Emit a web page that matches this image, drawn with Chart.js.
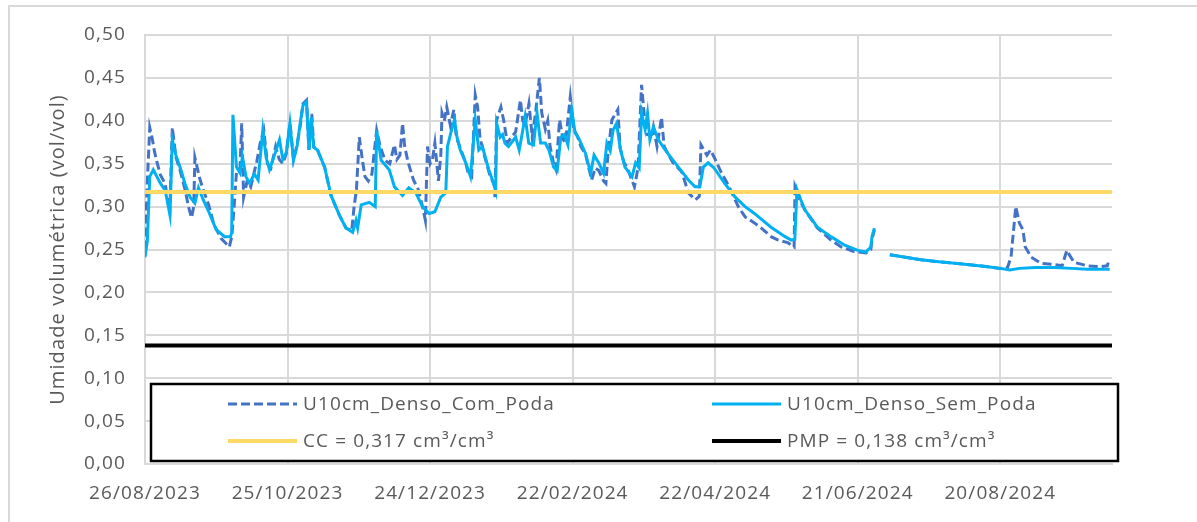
<!DOCTYPE html>
<html>
<head>
<meta charset="utf-8">
<script src="https://cdn.jsdelivr.net/npm/chart.js@4.4.1/dist/chart.umd.min.js"></script>
<style>
  html, body { margin: 0; padding: 0; background: #fff; }
  #wrap { position: relative; width: 1197px; height: 522px; overflow: hidden; }
  #frame { position: absolute; left: 8px; top: 5px; width: 1250px; height: 600px; border: 2px solid #d9d9d9; }
  canvas { position: absolute; left: 0; top: 0; }
</style>
</head>
<body>
<div id="wrap">
  <div id="frame"></div>
  <canvas id="umidadeChart" width="1197" height="522"></canvas>
</div>
<script>
// days counted from 26/08/2023
var startDate = Date.UTC(2023, 7, 26);

var comDays = [
  0, 1, 2, 3, 4, 5, 6.5, 8.4, 9.5, 10.5,
  11.5, 13, 15, 17, 18.3, 19.6, 20.5, 21, 23, 24.6,
  26.8, 29, 32, 35.5, 36.5, 37, 37.5, 38.5, 40, 40.7,
  41.5, 43, 44.5, 47, 48.5, 50, 51.5, 53, 55, 56.5,
  58, 59.5, 61, 62.5, 64, 65.5, 66.5, 68, 69, 70.2,
  71, 72.6, 75.6, 78.3, 81.8, 84.6, 87, 88, 89, 90.2,
  91.5, 92.6, 94, 95.5, 97.5, 99, 101, 103, 105, 106,
  107.3, 108.4, 109.3, 110.8, 113, 115, 116.8, 118, 118.9, 120,
  121, 122, 123.5, 124.5, 125, 126, 127, 128.5, 130, 131,
  133, 135, 136, 137.5, 139, 140, 141, 143, 145, 147,
  147.3, 148, 149.8, 151, 152.5, 154, 156, 158, 159, 160,
  161.6, 163, 164.5, 166, 167, 168.5, 169.5, 170.5, 172, 173,
  174.5, 176, 177, 179, 180.5, 182, 183.5, 185.5, 188, 189.5,
  191, 193, 194, 194.8, 196.5, 199, 200, 201.5, 203, 206,
  207.5, 209, 210.3, 211.5, 213.3, 214, 215.5, 217.4, 218.5, 222,
  226, 228.7, 231.6, 233.3, 234, 236.5, 238, 240, 242.5, 245.5,
  249.7, 252.6, 256.5, 259.4, 263.5, 266.5, 270.5, 273.2, 273.6, 276,
  278, 283, 288.7, 293, 298, 303.5, 305.5, 306, 307, 310,
  313.5, 320, 326.6, 333, 340.7, 348, 354.6, 360, 363, 364.5,
  366.5, 368, 369.5, 370.5, 373, 377, 384, 386, 388, 389,
  391, 396.6, 402, 405, 405.8
];
var comValues = [
  0.250, 0.330, 0.392, 0.380, 0.364, 0.352, 0.337, 0.327, 0.310, 0.300,
  0.392, 0.358, 0.340, 0.318, 0.300, 0.287, 0.300, 0.357, 0.333, 0.319,
  0.302, 0.279, 0.263, 0.253, 0.265, 0.281, 0.300, 0.340, 0.345, 0.397,
  0.311, 0.330, 0.323, 0.352, 0.374, 0.389, 0.350, 0.345, 0.370, 0.355,
  0.350, 0.362, 0.397, 0.355, 0.372, 0.397, 0.420, 0.424, 0.366, 0.408,
  0.370, 0.366, 0.346, 0.313, 0.290, 0.275, 0.272, 0.300, 0.320, 0.381,
  0.354, 0.335, 0.330, 0.338, 0.389, 0.370, 0.354, 0.350, 0.372, 0.355,
  0.360, 0.397, 0.370, 0.351, 0.331, 0.320, 0.300, 0.284, 0.370, 0.350,
  0.355, 0.374, 0.330, 0.360, 0.409, 0.400, 0.416, 0.395, 0.413, 0.381,
  0.366, 0.351, 0.339, 0.335, 0.430, 0.416, 0.380, 0.358, 0.338, 0.325,
  0.311, 0.401, 0.416, 0.400, 0.374, 0.380, 0.387, 0.424, 0.400, 0.395,
  0.420, 0.381, 0.412, 0.450, 0.409, 0.390, 0.400, 0.370, 0.350, 0.343,
  0.401, 0.378, 0.375, 0.428, 0.390, 0.382, 0.370, 0.360, 0.331, 0.345,
  0.342, 0.330, 0.327, 0.360, 0.401, 0.413, 0.368, 0.352, 0.345, 0.323,
  0.345, 0.442, 0.401, 0.384, 0.384, 0.393, 0.370, 0.404, 0.370, 0.352,
  0.340, 0.316, 0.308, 0.312, 0.372, 0.360, 0.366, 0.355, 0.340, 0.325,
  0.300, 0.288, 0.281, 0.275, 0.265, 0.261, 0.258, 0.253, 0.323, 0.305,
  0.295, 0.275, 0.261, 0.253, 0.248, 0.246, 0.250, 0.262, 0.273, null,
  0.244, 0.241, 0.238, 0.236, 0.234, 0.232, 0.230, 0.228, 0.229, 0.241,
  0.300, 0.281, 0.273, 0.253, 0.241, 0.234, 0.232, 0.231, 0.249, 0.244,
  0.235, 0.231, 0.230, 0.231, 0.238
];

var semDays = [
  0, 1, 2, 3.5, 5, 6.5, 8.5, 10.5, 11.5, 13,
  15, 17, 19, 21, 22.5, 24.5, 27, 30, 33.5, 36,
  36.5, 37, 38.5, 40, 41, 42.5, 44, 46, 47.6, 49.6,
  51, 52.4, 54.5, 56.6, 58, 59.5, 61, 62.5, 64, 65.5,
  66.5, 68, 69, 70, 71, 72.6, 75.6, 78.3, 81.8, 84.6,
  87.4, 88.8, 89.5, 91, 94.4, 96.9, 97.5, 99.4, 102.8, 105,
  108.4, 111, 114, 116.8, 119.6, 122, 124.5, 126.6, 127.3, 129,
  130.3, 131.3, 132.7, 135, 137, 139, 140.5, 142, 144.7, 147,
  147.6, 148, 149.5, 150.5, 151.5, 153, 156, 157.5, 158.5, 160,
  161.5, 163.5, 165, 166.5, 168.5, 170, 172, 173.5, 175, 176.5,
  178, 179.6, 181, 182.5, 185.4, 187.6, 189, 191, 193, 194.4,
  195.8, 197, 198.5, 200, 202, 205, 206.5, 208, 209, 210.5,
  211.5, 212.5, 214, 216, 218, 220, 224.5, 228.7, 231.5, 233.5,
  235, 237, 239.5, 244, 248.4, 252.6, 256.5, 260, 263.5, 269.4,
  272, 273.5, 274.4, 276, 277.8, 283, 288.7, 294.5, 300, 303.4,
  305.5, 306, 307, 310, 313.5, 320, 326.6, 333, 340.7, 348,
  354.6, 360, 364, 368, 375, 382.6, 390, 396.6, 406
];
var semValues = [
  0.241, 0.260, 0.335, 0.343, 0.335, 0.327, 0.319, 0.290, 0.378, 0.360,
  0.344, 0.325, 0.311, 0.304, 0.322, 0.308, 0.293, 0.273, 0.265, 0.265,
  0.270, 0.407, 0.346, 0.339, 0.358, 0.335, 0.327, 0.338, 0.331, 0.389,
  0.357, 0.343, 0.360, 0.378, 0.355, 0.363, 0.397, 0.354, 0.370, 0.401,
  0.418, 0.422, 0.366, 0.404, 0.369, 0.366, 0.346, 0.313, 0.290, 0.275,
  0.270, 0.284, 0.275, 0.302, 0.305, 0.300, 0.389, 0.354, 0.343, 0.323,
  0.313, 0.322, 0.316, 0.300, 0.292, 0.294, 0.311, 0.316, 0.370, 0.389,
  0.401, 0.381, 0.366, 0.351, 0.335, 0.401, 0.366, 0.370, 0.343, 0.325,
  0.319, 0.397, 0.381, 0.384, 0.374, 0.370, 0.381, 0.366, 0.381, 0.405,
  0.374, 0.372, 0.409, 0.374, 0.374, 0.366, 0.346, 0.342, 0.381, 0.384,
  0.372, 0.413, 0.386, 0.380, 0.362, 0.339, 0.360, 0.351, 0.339, 0.374,
  0.365, 0.389, 0.397, 0.368, 0.346, 0.335, 0.351, 0.345, 0.409, 0.390,
  0.409, 0.378, 0.393, 0.378, 0.370, 0.362, 0.346, 0.331, 0.323, 0.323,
  0.346, 0.351, 0.345, 0.327, 0.311, 0.300, 0.292, 0.284, 0.276, 0.265,
  0.261, 0.262, 0.320, 0.308, 0.296, 0.276, 0.265, 0.255, 0.249, 0.247,
  0.253, 0.265, 0.275, null, 0.244, 0.241, 0.238, 0.236, 0.234, 0.232,
  0.230, 0.228, 0.226, 0.228, 0.229, 0.229, 0.228, 0.227, 0.227
];

var ccValue = 0.317;
var pmpValue = 0.138;
var xRange = [0, 407];

var labelCom = "U10cm_Denso_Com_Poda";
var labelSem = "U10cm_Denso_Sem_Poda";
var labelCC = "CC = 0,317 cm³/cm³";
var labelPMP = "PMP = 0,138 cm³/cm³";

var textColor = "#595959";
var gridColor = "#d9d9d9";
var fontFamily = "'Open Sans', 'Liberation Sans', sans-serif";

function toPoints(days, values) {
  return days.map(function (d, i) { return { x: d, y: values[i] }; });
}

function formatDay(d) {
  var dt = new Date(startDate + d * 86400000);
  var dd = String(dt.getUTCDate()).padStart(2, '0');
  var mm = String(dt.getUTCMonth() + 1).padStart(2, '0');
  return dd + '/' + mm + '/' + dt.getUTCFullYear();
}

// the original text runs a bit wider than Open Sans, so space the letters out
const spacingPlugin = {
  id: 'spacing',
  beforeDraw: function (chart) {
    chart.ctx.letterSpacing = '1.1px';
  }
};

// legend drawn inside the plot, in a bordered box, two columns
const boxLegendPlugin = {
  id: 'boxLegend',
  afterDraw: function (chart) {
    const ctx = chart.ctx;
    const left = 151, top = 384, right = 1118, bottom = 461;
    ctx.save();
    ctx.fillStyle = '#fff';
    ctx.fillRect(left, top, right - left, bottom - top);
    ctx.strokeStyle = '#000';
    ctx.lineWidth = 2.5;
    ctx.strokeRect(left, top, right - left, bottom - top);

    const cols = [228, 712];
    const rows = [404, 441];
    const sets = chart.data.datasets;
    ctx.font = '19px ' + fontFamily;
    ctx.letterSpacing = '1.1px';
    ctx.textBaseline = 'middle';
    ctx.textAlign = 'left';
    sets.forEach(function (ds, i) {
      const x = cols[i % 2];
      const y = rows[Math.floor(i / 2)];
      ctx.beginPath();
      ctx.setLineDash(ds.borderDash || []);
      ctx.strokeStyle = ds.borderColor;
      ctx.lineWidth = ds.borderWidth;
      ctx.moveTo(x, y);
      ctx.lineTo(x + 69, y);
      ctx.stroke();
      ctx.setLineDash([]);
      ctx.fillStyle = textColor;
      ctx.fillText(ds.label, x + 75, y + 1);
    });
    ctx.restore();
  }
};

var ctxUmidade = document.getElementById("umidadeChart").getContext("2d");

var umidadeChart = new Chart(ctxUmidade, {
  type: 'line',
  data: {
    datasets: [{
      label: labelCom,
      data: toPoints(comDays, comValues),
      borderColor: '#4472C4',
      borderWidth: 3,
      borderDash: [9, 4],
      pointRadius: 0,
      order: 4
    }, {
      label: labelSem,
      data: toPoints(semDays, semValues),
      borderColor: '#00B0F0',
      borderWidth: 3,
      pointRadius: 0,
      order: 3
    }, {
      label: labelCC,
      data: [{ x: xRange[0], y: ccValue }, { x: xRange[1], y: ccValue }],
      borderColor: '#FFD966',
      borderWidth: 4,
      pointRadius: 0,
      order: 2
    }, {
      label: labelPMP,
      data: [{ x: xRange[0], y: pmpValue }, { x: xRange[1], y: pmpValue }],
      borderColor: '#000000',
      borderWidth: 4,
      pointRadius: 0,
      order: 1
    }]
  },
  options: {
    responsive: false,
    animation: false,
    events: [],
    layout: { padding: { top: 35, right: 85, left: 0, bottom: 0 } },
    plugins: {
      legend: { display: false },
      tooltip: { enabled: false }
    },
    scales: {
      x: {
        type: 'linear',
        min: xRange[0],
        max: xRange[1],
        grid: { color: gridColor, lineWidth: 2, drawTicks: false },
        border: { color: gridColor, width: 2 },
        ticks: {
          stepSize: 60,
          includeBounds: false,
          padding: 18,
          color: textColor,
          font: { family: fontFamily, size: 19 },
          maxRotation: 0,
          callback: function (v) { return formatDay(v); }
        },
        afterFit: function (scale) { scale.height = 58; }
      },
      y: {
        min: 0,
        max: 0.5,
        grid: { color: gridColor, lineWidth: 2, drawTicks: false },
        border: { color: gridColor, width: 2 },
        ticks: {
          stepSize: 0.05,
          padding: 19,
          color: textColor,
          font: { family: fontFamily, size: 19 },
          callback: function (v) { return v.toFixed(2).replace('.', ','); }
        },
        title: {
          display: true,
          text: 'Umidade volumétrica (vol/vol)',
          color: textColor,
          font: { family: fontFamily, size: 20 },
          padding: { top: 46, bottom: 0 }
        },
        afterFit: function (scale) { scale.width = 145; }
      }
    }
  },
  plugins: [spacingPlugin, boxLegendPlugin]
});
</script>
</body>
</html>
